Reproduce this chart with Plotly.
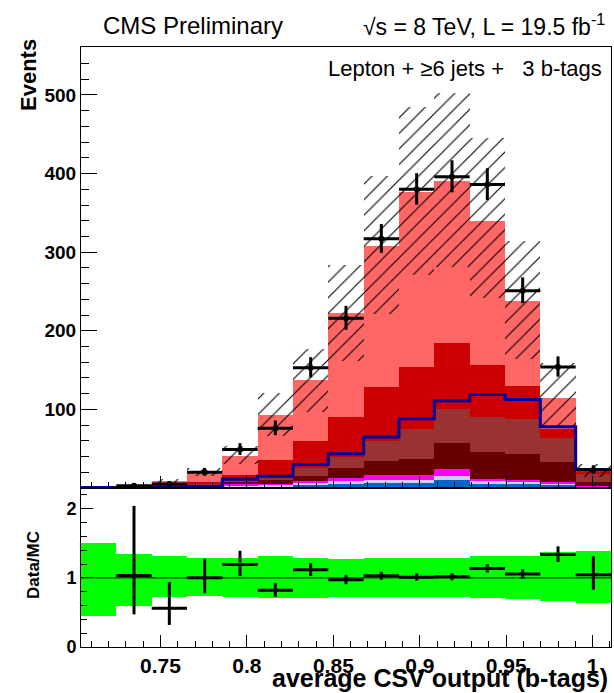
import numpy as np
import plotly.graph_objects as go

# ---------------- data ----------------
x_lo = 0.704          # left edge of first bin
bin_w = 0.02044       # bin width
n_bins = 15

# stacked MC contributions per bin (bottom -> top)
mc_blue     = [0.1, 0.2, 0.3, 0.5, 2.0, 2.0, 3.8, 5.5, 6.4, 6.4, 10.6, 5.5, 4.7, 4.0, 0.5]
mc_lavender = [0.1, 0.1, 0.2, 0.5, 1.0, 2.0, 2.6, 3.5, 3.6, 4.2, 4.4, 3.0, 2.9, 2.0, 0.5]
mc_magenta  = [0.1, 0.2, 0.5, 1.0, 1.7, 1.5, 2.1, 4.0, 6.0, 5.4, 9.6, 3.5, 3.0, 1.7, 1.0]
mc_darkred  = [0.1, 0.3, 0.5, 1.5, 3.0, 4.5, 6.8, 12.5, 18.0, 21.4, 32.4, 34.0, 32.4, 25.3, 5.7]
mc_brown    = [0.2, 0.4, 1.0, 1.5, 2.3, 3.0, 10.7, 14.5, 25.4, 38.2, 44.0, 44.0, 44.5, 30.0, 11.3]
mc_red      = [0.2, 0.6, 1.5, 3.0, 7.0, 22.0, 33.4, 50.4, 69.3, 78.4, 83.0, 67.0, 42.5, 12.6, 1.5]
mc_salmon   = [0.2, 1.1, 4.9, 12.0, 24.0, 57.6, 77.6, 131.6, 179.3, 222.0, 206.0, 183.0, 108.0, 39.4, 1.5]

stack_series = [mc_blue, mc_lavender, mc_magenta, mc_darkred, mc_brown, mc_red, mc_salmon]
stack_colors = ["#0066cc", "#ccccff", "#ff00ff", "#660000", "#993333", "#cc0000", "#ff6666"]

# overlaid signal-like histogram (blue line)
signal_line = [0.5, 0.5, 1.0, 2.0, 11.0, 15.0, 30.0, 43.7, 65.0, 88.0, 111.0, 119.0, 112.5, 78.0, 23.4]

# data (bin 1 empty)
data        = [None, 3, 5, 20, 49, 76, 153, 216, 317, 380, 396, 386, 251, 154, 23]
data_err_dn = [None, 1.63, 2.16, 4.44, 6.98, 8.7, 12.4, 14.7, 17.8, 19.5, 19.9, 19.6, 15.8, 12.4, 4.8]
data_err_up = [None, 2.92, 3.38, 5.55, 8.05, 9.8, 13.4, 15.7, 18.8, 20.5, 20.9, 20.7, 16.9, 13.4, 5.9]

# relative MC uncertainty band (ratio units)
unc_up = [1.50, 1.34, 1.32, 1.29, 1.29, 1.31, 1.29, 1.28, 1.29, 1.29, 1.29, 1.31, 1.32, 1.38, 1.39]
unc_dn = [0.45, 0.59, 0.72, 0.74, 0.73, 0.71, 0.71, 0.73, 0.72, 0.72, 0.72, 0.71, 0.69, 0.67, 0.63]

# ---------------- derived ----------------
edges = x_lo + bin_w * np.arange(n_bins + 1)
centers = 0.5 * (edges[:-1] + edges[1:])
x_hi = edges[-1]

arr = np.array(stack_series)
mc_total = arr.sum(axis=0)
bases = np.vstack([np.zeros(n_bins), np.cumsum(arr, axis=0)[:-1]])

FONT = "Liberation Sans, Arial, Helvetica, sans-serif"

fig = go.Figure()

# stacked MC
for vals, base, col in zip(stack_series, bases, stack_colors):
    fig.add_trace(go.Bar(x=centers, y=vals, base=base, width=bin_w,
                         marker=dict(color=col, line=dict(width=0)),
                         xaxis="x", yaxis="y", hoverinfo="skip"))

# hatched uncertainty band
up = np.array(unc_up)
dn = np.array(unc_dn)
fig.add_trace(go.Bar(x=centers, y=mc_total * (up - dn), base=mc_total * dn, width=bin_w,
                     marker=dict(color="rgba(0,0,0,0)", line=dict(width=0),
                                 pattern=dict(shape="/", fgcolor="black", bgcolor="rgba(0,0,0,0)",
                                              fgopacity=1, size=11, solidity=0.1, fillmode="overlay")),
                     xaxis="x", yaxis="y", hoverinfo="skip"))

# blue line histogram
fig.add_trace(go.Scatter(x=edges, y=list(signal_line) + [signal_line[-1]], mode="lines",
                         line=dict(color="#000099", width=3, shape="hv"),
                         xaxis="x", yaxis="y", hoverinfo="skip"))

# data points
sel = [i for i, d in enumerate(data) if d is not None]
dx = centers[sel]
dy = np.array([data[i] for i in sel], dtype=float)
dup = np.array([data_err_up[i] for i in sel])
ddn = np.array([data_err_dn[i] for i in sel])
fig.add_trace(go.Scatter(x=dx, y=dy, mode="markers",
                         marker=dict(color="black", size=6),
                         error_x=dict(type="constant", value=bin_w / 2, thickness=3, width=0, color="black"),
                         error_y=dict(type="data", symmetric=False, array=dup, arrayminus=ddn,
                                      thickness=3, width=0, color="black"),
                         xaxis="x", yaxis="y", hoverinfo="skip"))

# ratio panel: green band
fig.add_trace(go.Bar(x=centers, y=up - dn, base=dn, width=bin_w,
                     marker=dict(color="#00ff00", line=dict(width=0)),
                     xaxis="x2", yaxis="y2", hoverinfo="skip"))

mc_sel = mc_total[sel]
fig.add_trace(go.Scatter(x=dx, y=dy / mc_sel, mode="markers",
                         marker=dict(color="black", size=3),
                         error_x=dict(type="constant", value=bin_w / 2, thickness=3, width=0, color="black"),
                         error_y=dict(type="data", symmetric=False, array=dup / mc_sel, arrayminus=ddn / mc_sel,
                                      thickness=3, width=0, color="black"),
                         xaxis="x2", yaxis="y2", hoverinfo="skip"))

fig.add_shape(type="line", xref="x2 domain", yref="y2", x0=0, x1=1, y0=1, y1=1,
              line=dict(color="black", width=1))

axis_common = dict(showline=True, mirror=True, linecolor="black", linewidth=1,
                   showgrid=False, zeroline=False, ticks="inside", tickcolor="black")

fig.update_layout(
    width=614, height=693,
    margin=dict(l=81, r=3, t=47, b=46),
    plot_bgcolor="white", paper_bgcolor="white",
    barmode="overlay", bargap=0, showlegend=False,
    font=dict(family=FONT, color="black"),
    xaxis=dict(domain=[0, 1], anchor="y", range=[x_lo, x_hi], showticklabels=False,
               tick0=0.75, dtick=0.05, ticklen=12,
               minor=dict(ticks="inside", dtick=0.01, tick0=0.75, ticklen=6, tickcolor="black"),
               **axis_common),
    yaxis=dict(domain=[0.265, 1], anchor="x", range=[0, 561],
               tickmode="array", tickvals=[100, 200, 300, 400, 500], ticklen=16,
               tickfont=dict(family=FONT, size=19, color="black", weight="bold"),
               minor=dict(ticks="inside", tickmode="linear", tick0=0, dtick=20, ticklen=8, tickcolor="black"),
               **axis_common),
    xaxis2=dict(domain=[0, 1], anchor="y2", range=[x_lo, x_hi], matches="x",
                tick0=0.75, dtick=0.05, ticklen=12,
                tickfont=dict(family=FONT, size=21, color="black", weight="bold"),
                minor=dict(ticks="inside", dtick=0.01, tick0=0.75, ticklen=6, tickcolor="black"),
                **axis_common),
    yaxis2=dict(domain=[0, 0.265], anchor="x2", range=[0, 2.3],
                tick0=0, dtick=1, ticklen=12,
                tickfont=dict(family=FONT, size=18, color="black", weight="bold"),
                minor=dict(ticks="inside", tick0=0, dtick=0.2, ticklen=6, tickcolor="black"),
                **axis_common),
)

def px_x(p):
    return (p - 81) / 530.0

def px_y(p):
    return (647 - p) / 600.0

annos = [
    dict(text="CMS Preliminary", x=px_x(101), y=px_y(25), xanchor="left", yanchor="middle",
         font=dict(family=FONT, size=24, color="black")),
    dict(text="\u221As = 8 TeV, L = 19.5 fb<sup>-1</sup>", x=px_x(607), y=px_y(25),
         xanchor="right", yanchor="middle", font=dict(family=FONT, size=23, color="black")),
    dict(text="Lepton + \u22656 jets +\u00a0\u00a0 3 b-tags", x=px_x(604), y=px_y(68),
         xanchor="right", yanchor="middle", font=dict(family=FONT, size=22, color="black")),
    dict(text="Events", x=px_x(29), y=px_y(75), xanchor="center", yanchor="middle", textangle=-90,
         font=dict(family=FONT, size=22, color="black", weight="bold")),
    dict(text="Data/MC", x=px_x(33), y=px_y(565), xanchor="center", yanchor="middle", textangle=-90,
         font=dict(family=FONT, size=17, color="black", weight="bold")),
    dict(text="average CSV output (b-tags)", x=px_x(610), y=0, yshift=-(694 - 647), xanchor="right",
         yanchor="bottom", font=dict(family=FONT, size=25, color="black", weight="bold")),
]
for a in annos:
    fig.add_annotation(xref="paper", yref="paper", showarrow=False, **a)

fig.write_html("out.html")
